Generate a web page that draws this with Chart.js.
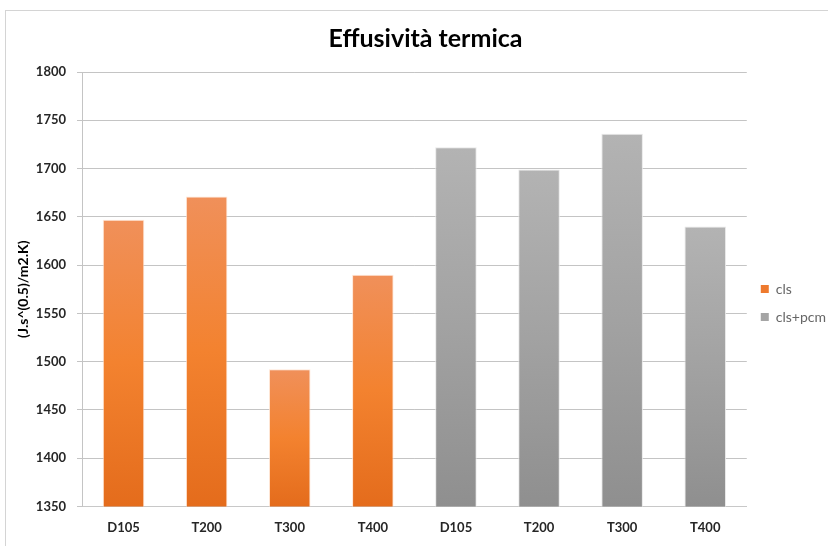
<!DOCTYPE html>
<html>
<head>
<meta charset="utf-8">
<script src="https://cdn.jsdelivr.net/npm/chart.js@4"></script>
<style>
  html, body { margin: 0; padding: 0; background: #fff; }
  #wrap { position: relative; width: 828px; height: 546px; }
  #frame {
    position: absolute; left: 5px; top: 10px; right: 0; bottom: 0;
    border-top: 1px solid #d4d4d4; border-left: 1px solid #d4d4d4;
    pointer-events: none;
  }
  canvas { position: absolute; left: 0; top: 0; }
</style>
</head>
<body>
<div id="wrap">
  <div id="frame"></div>
  <canvas id="chart" width="828" height="546"></canvas>
</div>
<script>
// categories and values
const categories = ["D105", "T200", "T300", "T400", "D105", "T200", "T300", "T400"];
const clsValues = [1647, 1671, 1492, 1590, null, null, null, null];
const pcmValues = [null, null, null, null, 1722, 1699, 1736, 1640];
const yTicks = [1350, 1400, 1450, 1500, 1550, 1600, 1650, 1700, 1750, 1800];

const fontFamily = "Lato, 'Open Sans', sans-serif";
const ink = "#262626";

// per-bar vertical gradient, lighter at the top like the Excel fill
function barGradient(top, mid, bottom) {
  return (ctx) => {
    const chart = ctx.chart;
    const area = chart.chartArea;
    if (!area || ctx.parsed == null || ctx.parsed.y == null) return bottom;
    const y0 = chart.scales.y.getPixelForValue(ctx.parsed.y);
    const g = chart.ctx.createLinearGradient(0, y0, 0, area.bottom);
    g.addColorStop(0, top);
    g.addColorStop(0.5, mid);
    g.addColorStop(1, bottom);
    return g;
  };
}

new Chart(document.getElementById("chart"), {
  type: "bar",
  data: {
    labels: categories,
    datasets: [
      {
        label: "cls",
        data: clsValues,
        backgroundColor: barGradient("#f0905a", "#f3822f", "#e46c1c"),
        borderColor: "rgba(255,225,205,0.8)",
        borderWidth: 1,
        skipNull: true,
      },
      {
        label: "cls+pcm",
        data: pcmValues,
        backgroundColor: barGradient("#b3b3b3", "#a2a2a2", "#8f8f8f"),
        borderColor: "rgba(230,230,230,0.9)",
        borderWidth: 1,
        skipNull: true,
      },
    ],
  },
  options: {
    responsive: false,
    animation: false,
    layout: { padding: { left: 15, right: -8, top: 6, bottom: -4 } },
    datasets: { bar: { barPercentage: 0.5, categoryPercentage: 1 } },
    plugins: {
      title: {
        display: true,
        text: "Effusività termica",
        color: "#000",
        font: { family: fontFamily, size: 25, weight: "bold" },
        padding: { top: 18, bottom: 18 },
      },
      legend: {
        position: "right",
        title: { display: true, text: "", font: { size: 10 }, padding: { top: 19, bottom: 19 } },
        labels: {
          boxWidth: 8,
          boxHeight: 8,
          padding: 14,
          color: "#404040",
          font: { family: fontFamily, size: 14 },
          generateLabels: (chart) => chart.data.datasets.map((ds, i) => ({
            text: ds.label,
            fillStyle: i === 0 ? "#ee7a2e" : "#a5a5a5",
            strokeStyle: "transparent",
            lineWidth: 0,
            datasetIndex: i,
          })),
        },
      },
      tooltip: { enabled: false },
    },
    scales: {
      x: {
        grid: { display: false, drawTicks: false },
        border: { color: "#c8c8c8", width: 1 },
        ticks: {
          color: ink,
          padding: 14,
          font: { family: fontFamily, size: 13, weight: "bold" },
          maxRotation: 0,
        },
      },
      y: {
        min: 1350,
        max: 1800,
        afterBuildTicks: (axis) => { axis.ticks = yTicks.map((v) => ({ value: v })); },
        afterFit: (axis) => { axis.width = 67; },
        grid: { color: "#c4c4c4", tickLength: 5 },
        border: { color: "#c4c4c4" },
        ticks: {
          color: ink,
          padding: 11,
          font: { family: fontFamily, size: 13, weight: "bold" },
          callback: (v) => String(v),
        },
        title: {
          display: true,
          text: "(J.s^(0.5)/m2.K)",
          color: "#000",
          font: { family: fontFamily, size: 14, weight: "bold" },
          padding: { top: 0, bottom: 5 },
        },
      },
    },
  },
});
</script>
</body>
</html>
